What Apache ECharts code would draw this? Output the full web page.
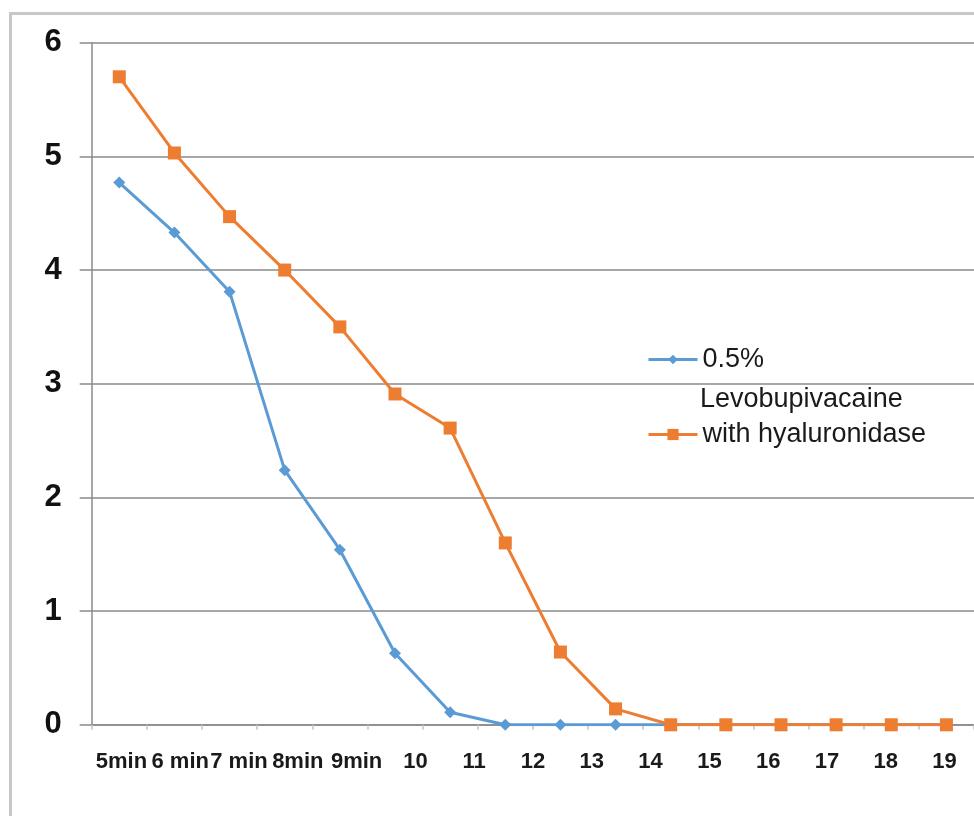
<!DOCTYPE html>
<html>
<head>
<meta charset="utf-8">
<script src="https://cdn.jsdelivr.net/npm/echarts@6/dist/echarts.min.js"></script>
<style>
  html, body { margin: 0; padding: 0; background: #ffffff; }
  #frame { position: absolute; left: 9px; top: 12px; width: 1000px; height: 900px;
           border-left: 3px solid #c8c8c8; border-top: 3px solid #c8c8c8; }
  #chart { position: absolute; left: 0; top: 0; width: 974px; height: 816px; }
</style>
</head>
<body>
<div id="frame"></div>
<div id="chart"></div>
<script>
// ---- data ----
const pointIndex = ['1','2','3','4','5','6','7','8','9','10','11','12','13','14','15','16'];
const tickLabels = ['5min','6 min','7 min','8min','9min','10','11','12','13','14','15','16','17','18','19'];
const seriesNames = ['0.5% Levobupivacaine', 'with hyaluronidase'];
const levobupivacaine = [4.77, 4.33, 3.81, 2.24, 1.54, 0.63, 0.11, 0, 0, 0, 0, 0, 0, 0, 0, 0];
const withHyaluronidase = [5.70, 5.03, 4.47, 4.00, 3.50, 2.91, 2.61, 1.60, 0.64, 0.14, 0, 0, 0, 0, 0, 0];
const yTicks = { min: 0, max: 6, interval: 1 };

const gridGray = '#8a8a8a';
const font = '"Liberation Sans", Arial, sans-serif';

const chart = echarts.init(document.getElementById('chart'), null, { renderer: 'canvas' });
chart.setOption({
  animation: false,
  backgroundColor: 'transparent',
  textStyle: { fontFamily: font },
  title: {
    text: 'Levobupivacaine',
    left: 700, top: 386, padding: 0,
    textStyle: { fontFamily: font, fontSize: 27, fontWeight: 'normal', color: '#1a1a1a' }
  },
  legend: [
    {
      data: [seriesNames[0]], left: 647, top: 346, padding: 0,
      itemWidth: 49, itemHeight: 12, itemGap: 5, selectedMode: false,
      lineStyle: { width: 3 },
      formatter: () => '0.5%',
      textStyle: { fontFamily: font, fontSize: 27, color: '#1a1a1a' }
    },
    {
      data: [seriesNames[1]], left: 647, top: 421, padding: 0,
      itemWidth: 49, itemHeight: 14, itemGap: 5, selectedMode: false,
      lineStyle: { width: 3 },
      textStyle: { fontFamily: font, fontSize: 27, color: '#1a1a1a' }
    }
  ],
  grid: [
    { left: 91.7, right: -1.7, top: 42.7, bottom: 91.2, containLabel: false },
    { left: 92, right: -6, top: 42.7, bottom: 91.2, containLabel: false }
  ],
  xAxis: [
    {
      type: 'category', gridIndex: 0, data: pointIndex, boundaryGap: true,
      axisLine: { show: true, lineStyle: { color: gridGray, width: 1.5 } },
      axisTick: { show: true, length: 5, lineStyle: { color: '#c4c4c4', width: 1.5 } },
      axisLabel: { show: false },
      splitLine: { show: false }
    },
    {
      type: 'category', gridIndex: 1, data: tickLabels, boundaryGap: true,
      axisLine: { show: false }, axisTick: { show: false }, splitLine: { show: false },
      axisLabel: { show: true, interval: 0, margin: 26, fontFamily: font, fontSize: 22,
                   fontWeight: 'bold', color: '#1a1a1a' }
    }
  ],
  yAxis: [
    {
      type: 'value', gridIndex: 0, min: yTicks.min, max: yTicks.max, interval: yTicks.interval,
      axisLine: { show: true, lineStyle: { color: gridGray, width: 1.5 } },
      axisTick: { show: true, length: 12, lineStyle: { color: gridGray, width: 1.5 } },
      axisLabel: { margin: 30, fontFamily: font, fontSize: 31, fontWeight: 'bold', color: '#111' },
      splitLine: { show: true, lineStyle: { color: gridGray, width: 1.5 } }
    },
    { type: 'value', gridIndex: 1, show: false, min: 0, max: 6 }
  ],
  series: [
    {
      name: seriesNames[0], type: 'line', xAxisIndex: 0, yAxisIndex: 0,
      data: levobupivacaine,
      color: '#5B9BD5',
      symbol: 'diamond', symbolSize: 12, showSymbol: true,
      lineStyle: { width: 3, color: '#5B9BD5' },
      itemStyle: { color: '#5B9BD5' }
    },
    {
      name: seriesNames[1], type: 'line', xAxisIndex: 0, yAxisIndex: 0,
      data: withHyaluronidase,
      color: '#ED7D31',
      symbol: 'rect', symbolSize: 13, showSymbol: true,
      lineStyle: { width: 3, color: '#ED7D31' },
      itemStyle: { color: '#ED7D31' }
    }
  ]
});
</script>
</body>
</html>
